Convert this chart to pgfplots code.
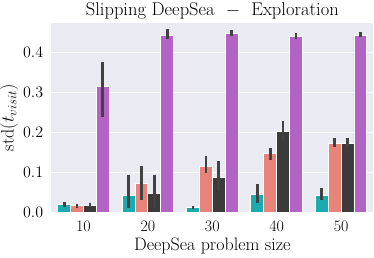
\documentclass[border=0pt]{standalone}
\usepackage{fix-cm}
\usepackage{fontspec}
\usepackage{pgfplots}
\pgfplotsset{compat=1.18}
\definecolor{bgc}{HTML}{EAEAF2}
\definecolor{cteal}{HTML}{1AABB0}
\definecolor{csalmon}{HTML}{E8837A}
\definecolor{cdark}{HTML}{3B3B3B}
\definecolor{cpurple}{HTML}{B263C4}
\definecolor{errc}{HTML}{424242}
\begin{document}
\begin{tikzpicture}
\useasboundingbox (-51.3pt,-44.3pt) rectangle (322.7pt,212.7pt);
\begin{axis}[
  at={(0pt,0pt)}, anchor=south west,
  scale only axis, width=322pt, height=190pt,
  xmin=-0.5, xmax=4.5, ymin=0, ymax=0.475,
  axis background/.style={fill=bgc},
  axis line style={draw=none},
  major tick length=0pt,
  xtick={0,1,2,3,4}, xticklabels={10,20,30,40,50},
  ytick={0,0.1,0.2,0.3,0.4},
  yticklabel style={/pgf/number format/fixed, /pgf/number format/fixed zerofill, /pgf/number format/precision=1},
  ymajorgrids, grid style={white, line width=1.3pt},
  tick label style={font=\fontsize{16}{19}\selectfont},
  xticklabel style={anchor=base, inner sep=0pt, yshift=-19pt},
  yticklabel style={anchor=east, inner sep=0pt, xshift=-8pt},
  label style={font=\fontsize{18}{21}\selectfont},
  xlabel={DeepSea problem size},
  xlabel style={at={(axis description cs:0.5,0)}, anchor=base, inner sep=0pt, yshift=-38pt},
  ylabel={$\mathrm{std}(t_{visit})$},
  ylabel style={at={(axis description cs:-0.117,0.5)}, anchor=base, inner sep=0pt},
  title={Slipping DeepSea\ \ $-$\ \ Exploration},
  every axis title shift=0pt,
  title style={font=\fontsize{18.5}{21}\selectfont, at={(axis description cs:0.5,1)}, anchor=base, inner sep=0pt, yshift=6.8pt},
  every axis plot/.append style={ybar, bar width=0.2, bar shift=0pt, draw=white, line width=0.9pt,
    error bars/y dir=both, error bars/y explicit, error bars/error mark=none,
    error bars/error bar style={line width=2.7pt, color=errc}},
]
\addplot[fill=cteal] table[x=x, y=y, y error plus=ep, y error minus=em] {
x y ep em
-0.3 0.020 0.006 0.005
0.7 0.044 0.050 0.032
1.7 0.012 0.005 0.003
2.7 0.046 0.025 0.021
3.7 0.044 0.017 0.012
};
\addplot[fill=csalmon] table[x=x, y=y, y error plus=ep, y error minus=em] {
x y ep em
-0.1 0.018 0.005 0.005
0.9 0.073 0.045 0.041
1.9 0.116 0.026 0.016
2.9 0.147 0.016 0.014
3.9 0.173 0.015 0.008
};
\addplot[fill=cdark] table[x=x, y=y, y error plus=ep, y error minus=em] {
x y ep em
0.1 0.019 0.006 0.005
1.1 0.049 0.045 0.037
2.1 0.088 0.041 0.034
3.1 0.204 0.026 0.021
4.1 0.173 0.015 0.008
};
\addplot[fill=cpurple] table[x=x, y=y, y error plus=ep, y error minus=em] {
x y ep em
0.3 0.315 0.063 0.075
1.3 0.444 0.015 0.010
2.3 0.448 0.010 0.006
3.3 0.440 0.009 0.006
4.3 0.444 0.009 0.004
};
\end{axis}
\end{tikzpicture}
\end{document}
